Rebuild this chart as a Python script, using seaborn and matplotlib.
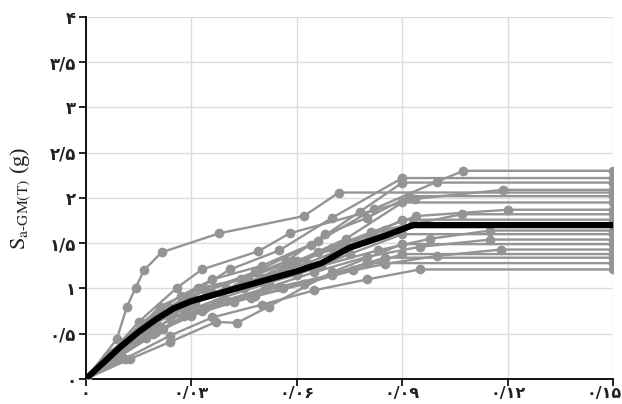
import numpy as np
import pandas as pd
import matplotlib
matplotlib.use("Agg")
import matplotlib.pyplot as plt
import matplotlib.transforms as mtransforms
import seaborn as sns

# ---- data ----
rec_x = [
    [0, 0.0088, 0.0117, 0.0142, 0.0165, 0.0216, 0.038, 0.062, 0.072],
    [0, 0.006, 0.016, 0.027, 0.036, 0.05, 0.066, 0.082, 0.0999, 0.1073],
    [0, 0.008, 0.018, 0.028, 0.041, 0.055, 0.07, 0.09],
    [0, 0.007, 0.015, 0.026, 0.033, 0.049, 0.058, 0.0936, 0.1187],
    [0, 0.006, 0.014, 0.024, 0.034, 0.048, 0.064, 0.078, 0.09],
    [0, 0.009, 0.02, 0.03, 0.044, 0.057, 0.068, 0.08, 0.092],
    [0, 0.005, 0.013, 0.022, 0.031, 0.045, 0.06, 0.074, 0.09],
    [0, 0.007, 0.017, 0.029, 0.04, 0.053, 0.066, 0.081, 0.094, 0.12],
    [0, 0.008, 0.019, 0.03, 0.043, 0.056, 0.07, 0.085, 0.107],
    [0, 0.006, 0.015, 0.025, 0.036, 0.05, 0.063, 0.077, 0.09],
    [0, 0.01, 0.021, 0.032, 0.046, 0.059, 0.073, 0.093],
    [0, 0.007, 0.016, 0.028, 0.039, 0.052, 0.067, 0.083, 0.098, 0.115],
    [0, 0.009, 0.02, 0.031, 0.045, 0.06, 0.075, 0.09],
    [0, 0.006, 0.014, 0.024, 0.037, 0.051, 0.065, 0.08, 0.095, 0.115],
    [0, 0.0125, 0.024, 0.037, 0.043, 0.052, 0.07, 0.09],
    [0, 0.007, 0.017, 0.028, 0.04, 0.055, 0.07, 0.085, 0.1, 0.118],
    [0, 0.01, 0.022, 0.034, 0.048, 0.062, 0.076, 0.09],
    [0, 0.008, 0.019, 0.03, 0.042, 0.056, 0.07, 0.085],
    [0, 0.009, 0.02, 0.033, 0.047, 0.062, 0.08],
    [0, 0.011, 0.024, 0.036, 0.05, 0.065, 0.08, 0.095],
]
rec_y = [
    [0, 0.44, 0.80, 1.01, 1.20, 1.40, 1.61, 1.80, 2.06],
    [0, 0.24, 0.62, 0.92, 1.10, 1.25, 1.52, 1.88, 2.18, 2.30],
    [0, 0.30, 0.64, 0.90, 1.21, 1.42, 1.78, 2.22],
    [0, 0.28, 0.63, 1.01, 1.21, 1.41, 1.61, 1.99, 2.09],
    [0, 0.20, 0.50, 0.78, 0.98, 1.18, 1.48, 1.85, 2.17],
    [0, 0.32, 0.70, 0.92, 1.10, 1.30, 1.60, 1.78, 2.02],
    [0, 0.16, 0.45, 0.72, 0.88, 1.05, 1.30, 1.55, 1.95],
    [0, 0.22, 0.55, 0.82, 1.00, 1.15, 1.40, 1.62, 1.80, 1.87],
    [0, 0.26, 0.60, 0.84, 1.02, 1.20, 1.45, 1.65, 1.82],
    [0, 0.19, 0.50, 0.75, 0.95, 1.12, 1.28, 1.50, 1.76],
    [0, 0.35, 0.80, 1.00, 1.12, 1.30, 1.46, 1.72],
    [0, 0.20, 0.48, 0.74, 0.90, 1.06, 1.25, 1.42, 1.55, 1.64],
    [0, 0.28, 0.62, 0.85, 1.00, 1.15, 1.38, 1.60],
    [0, 0.18, 0.42, 0.66, 0.84, 1.00, 1.18, 1.35, 1.46, 1.54],
    [0, 0.22, 0.41, 0.63, 0.62, 0.80, 1.18, 1.49],
    [0, 0.20, 0.45, 0.70, 0.86, 1.02, 1.15, 1.27, 1.36, 1.43],
    [0, 0.26, 0.55, 0.78, 0.92, 1.05, 1.20, 1.38],
    [0, 0.22, 0.50, 0.70, 0.85, 1.00, 1.16, 1.34],
    [0, 0.24, 0.52, 0.75, 0.90, 1.05, 1.28],
    [0, 0.22, 0.48, 0.68, 0.82, 0.98, 1.10, 1.21],
]
x_end = 0.15

mean_x = [0, 0.005, 0.01, 0.015, 0.02, 0.025, 0.03, 0.04, 0.05, 0.06, 0.067, 0.075, 0.085, 0.093, 0.15]
mean_y = [0, 0.18, 0.36, 0.52, 0.66, 0.78, 0.86, 0.97, 1.08, 1.19, 1.28, 1.45, 1.58, 1.70, 1.70]

x_ticks = [0, 0.03, 0.06, 0.09, 0.12, 0.15]
x_labels = ["۰", "۰/۰۳", "۰/۰۶", "۰/۰۹", "۰/۱۲", "۰/۱۵"]
y_ticks = [0, 0.5, 1, 1.5, 2, 2.5, 3, 3.5, 4]
y_labels = ["۰", "۰/۵", "۱", "۱/۵", "۲", "۲/۵", "۳", "۳/۵", "۴"]

# ---- build long table ----
rows = []
for i, (xs, ys) in enumerate(zip(rec_x, rec_y)):
    for xv, yv in zip(xs + [x_end], ys + [ys[-1]]):
        rows.append({"rec": i, "T": xv, "Sa": yv})
df = pd.DataFrame(rows)
dmean = pd.DataFrame({"T": mean_x, "Sa": mean_y})

sns.set_style("white")
plt.rcParams["font.family"] = ["DejaVu Sans"]
plt.rcParams["mathtext.fontset"] = "stix"

fig = plt.figure(figsize=(6.22, 4.04), dpi=100)
ax = fig.add_axes([0.138, 0.062, 0.848, 0.896])

gray = "#949494"
sns.lineplot(data=df, x="T", y="Sa", units="rec", estimator=None, sort=False,
             color=gray, lw=1.7, marker="o", markersize=7, markeredgewidth=0,
             ax=ax, legend=False, zorder=3)
sns.lineplot(data=dmean, x="T", y="Sa", color="black", lw=4.5, sort=False,
             ax=ax, legend=False, zorder=5)

ax.set_xlim(0, 0.15)
ax.set_ylim(0, 4)
ax.set_xticks(x_ticks)
ax.set_xticklabels(x_labels, fontsize=11.5, fontweight="bold")
ax.set_yticks(y_ticks)
ax.set_yticklabels(y_labels, fontsize=12, fontweight="bold")
ax.grid(True, color="#dcdcdc", lw=1)
ax.set_axisbelow(True)
for s in ["top", "right"]:
    ax.spines[s].set_visible(False)
for s in ["left", "bottom"]:
    ax.spines[s].set_color("black")
    ax.spines[s].set_linewidth(1.3)
ax.tick_params(axis="both", direction="out", length=5, width=1.2, color="black",
               colors="#222222", bottom=True, left=True)
ax.tick_params(axis="x", pad=0)
ax.tick_params(axis="y", pad=2)
ax.set_xlabel("")
ax.set_ylabel(r"$\mathrm{S_{a\text{-}GM(T)}}$ (g)", family="Liberation Serif",
              fontsize=16, labelpad=12)

# keep the last x tick label inside the figure
last = ax.get_xticklabels()[-1]
last.set_transform(last.get_transform() +
                   mtransforms.ScaledTranslation(-9 / 100, 0, fig.dpi_scale_trans))

fig.savefig("out.png", dpi=100)
